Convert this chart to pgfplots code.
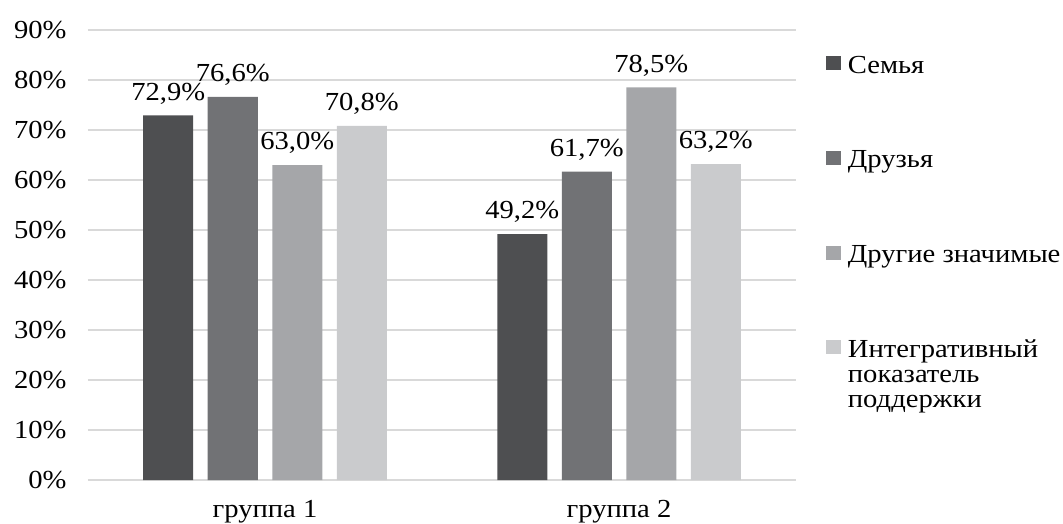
\documentclass[border=0pt]{standalone}
\usepackage{fontspec}
\setmainfont{Liberation Serif}[FakeStretch=1.1]
\usepackage{pgfplots}
\pgfplotsset{compat=1.18}

\definecolor{cfam}{HTML}{4E4F51}
\definecolor{cfri}{HTML}{717275}
\definecolor{coth}{HTML}{A5A6A9}
\definecolor{cint}{HTML}{CACBCD}
\definecolor{gridgray}{HTML}{D9D9D9}

\begin{document}
\begin{tikzpicture}[font=\fontsize{26}{25}\selectfont]
\begin{axis}[
    scale only axis,
    width=708pt,
    height=450pt,
    xmin=-0.5, xmax=1.5,
    ymin=0, ymax=90,
    ybar=14.5pt,
    bar width=50pt,
    xtick={0,1},
    xticklabels={группа 1, группа 2},
    ytick={0,10,...,90},
    yticklabel={\pgfmathprintnumber{\tick}\%},
    /pgf/number format/assume math mode=true,
    axis line style={draw=none},
    major tick length=0pt,
    ymajorgrids,
    grid style={draw=gridgray, line width=1.5pt},
    yticklabel style={xshift=-18pt},
    xticklabel style={yshift=-17pt},
    nodes near coords={\pgfmathprintnumber[fixed,fixed zerofill,precision=1,use comma]{\pgfplotspointmeta}\%},
    every node near coord/.append style={inner sep=2pt, yshift=9pt},
    legend style={draw=none, at={(1.042,0.947)}, anchor=north west,
        inner sep=0pt, row sep=72pt, nodes={inner sep=2pt}},
    legend cell align=left,
    legend image code/.code={\fill[#1] (0pt,-5pt) rectangle (15pt,9pt);\path (20pt,0pt);},
    clip=false,
]
\addplot[fill=cfam, draw=none] coordinates {(0,72.9) (1,49.2)};
\addplot[fill=cfri, draw=none] coordinates {(0,76.6) (1,61.7)};
\addplot[fill=coth, draw=none] coordinates {(0,63.0) (1,78.5)};
\addplot[fill=cint, draw=none] coordinates {(0,70.8) (1,63.2)};
\legend{Семья, Друзья, Другие значимые,
    {\begin{tabular}[t]{@{}l@{}}Интегративный\\показатель\\поддержки\end{tabular}}}
\end{axis}
\pgfresetboundingbox
\path ([xshift=-88pt,yshift=-43pt]current axis.south west) rectangle ([xshift=267pt,yshift=30pt]current axis.north east);
\end{tikzpicture}
\end{document}
